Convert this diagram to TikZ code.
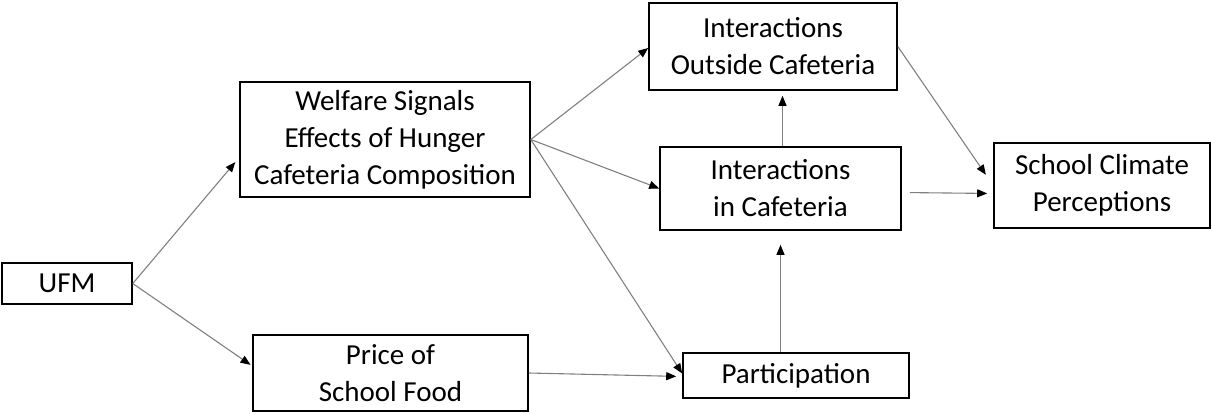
\documentclass[tikz,border=0pt]{standalone}
\usepackage{fontspec}
\setmainfont{Carlito}
\usetikzlibrary{arrows.meta, calc}

\begin{document}
\begin{tikzpicture}[x=1pt, y=-1pt,
    box/.style={draw=black, line width=1.6pt, inner sep=0pt, align=center,
      font=\fontsize{29}{37}\selectfont},
    link/.style={draw=black!50, line width=1.1pt,
      -{Triangle[length=10pt, width=8pt, black]}}]
  \useasboundingbox (0,0) rectangle (1212,413);

  % Cajas
  \node[box, minimum width=130pt, minimum height=41pt] (ufm) at (67,283.5) {UFM};
  \node[box, minimum width=290pt, minimum height=115pt] (welfare) at (385,139.5)
    {Welfare Signals\\Effects of Hunger\\Cafeteria Composition};
  \node[box, minimum width=275pt, minimum height=76pt] (price) at (390.5,373)
    {Price of\\School Food};
  \node[box, minimum width=248pt, minimum height=87pt] (outside) at (773,46.5)
    {Interactions\\Outside Cafeteria};
  \node[box, minimum width=241pt, minimum height=83pt] (incaf) at (780.5,188.5)
    {Interactions\\in Cafeteria};
  \node[box, minimum width=226pt, minimum height=45pt] (part) at (796,375.5)
    {Participation};
  \node[box, minimum width=216pt, minimum height=85pt] (climate) at (1102,185.5)
    {School Climate\\Perceptions};

  % Flechas desde UFM
  \draw[link, shorten >=6pt] (ufm.east) -- ([yshift=-18pt]welfare.west);
  \draw[link, shorten >=2pt] (ufm.east) -- ([yshift=7pt]price.west);

  % Flechas desde Welfare
  \draw[link] (welfare.east) -- ([yshift=-1.5pt]outside.west);
  \draw[link] (welfare.east) -- (incaf.west);
  \draw[link] (welfare.east) -- ([yshift=2pt]part.west);

  % Precio -> participacion
  \draw[link, shorten >=6pt] (price.east) -- ([yshift=-1pt]part.west);

  % Flechas verticales
  \draw[link, shorten >=14pt] (incaf.south |- part.north) -- (incaf.south);
  \draw[link, shorten >=5pt] ([xshift=2pt]incaf.north) -- ([xshift=2pt]incaf.north |- outside.south);

  % Hacia School Climate
  \draw[link, shorten >=13pt] (outside.east) -- (climate.west);
  \draw[link, shorten <=8pt, shorten >=6pt] ([yshift=-4pt]incaf.east) -- ([yshift=-8pt]climate.west);
\end{tikzpicture}
\end{document}
